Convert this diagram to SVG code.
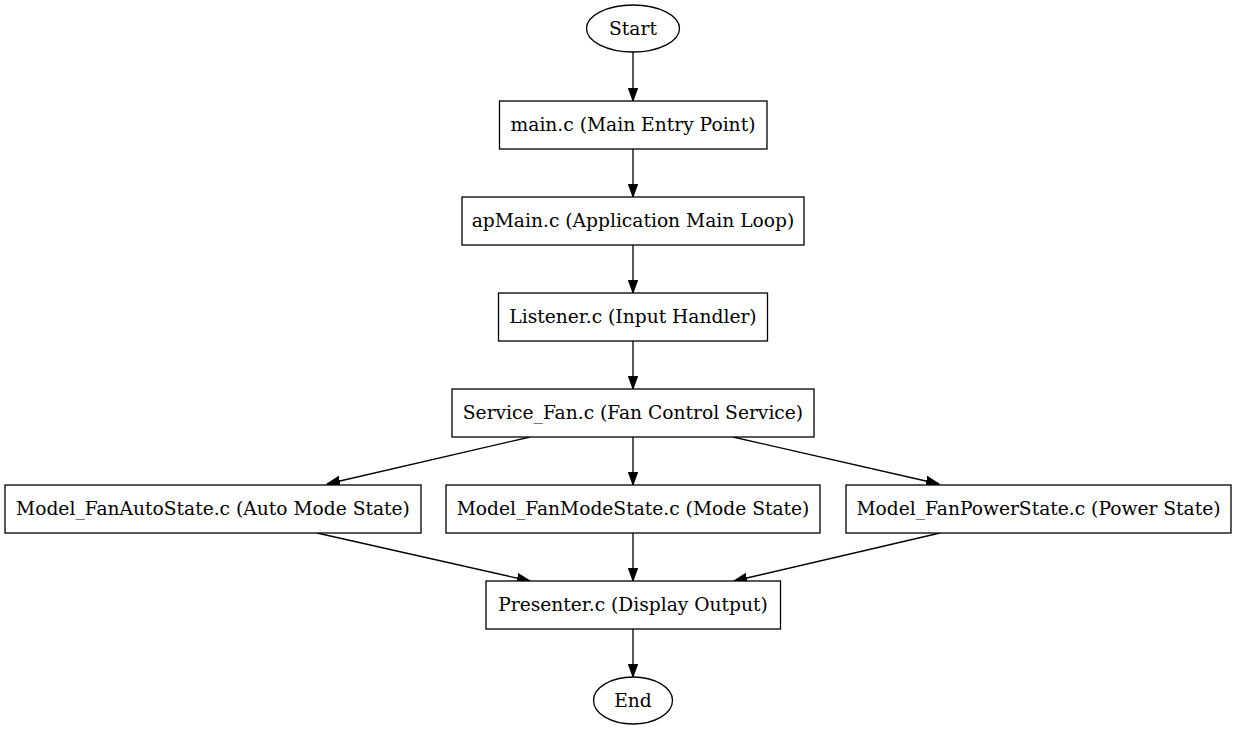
<svg xmlns="http://www.w3.org/2000/svg" width="1237" height="731" viewBox="0 0 1237 731">
<style>
.n{fill:#fff;stroke:#000;stroke-width:1.3}
.t{font-family:"DejaVu Serif",serif;font-size:18.67px;text-anchor:middle;fill:#000}
.e{fill:none;stroke:#000;stroke-width:1.3}
</style>
<defs>
<marker id="a" markerWidth="14" markerHeight="10" refX="13" refY="5" orient="auto" markerUnits="userSpaceOnUse">
<path d="M0,0.3 L13,5 L0,9.7 Z" fill="#000" stroke="#000" stroke-width="1"/>
</marker>
</defs>
<rect width="1237" height="731" fill="#fff"/>
<g id="edges">
<line class="e" x1="633" y1="52" x2="633" y2="101" marker-end="url(#a)"/>
<line class="e" x1="633" y1="149" x2="633" y2="197" marker-end="url(#a)"/>
<line class="e" x1="633" y1="245" x2="633" y2="293" marker-end="url(#a)"/>
<line class="e" x1="633" y1="341" x2="633" y2="389" marker-end="url(#a)"/>
<line class="e" x1="530" y1="437" x2="327" y2="484" marker-end="url(#a)"/>
<line class="e" x1="633" y1="437" x2="633" y2="485" marker-end="url(#a)"/>
<line class="e" x1="733" y1="437" x2="939" y2="484" marker-end="url(#a)"/>
<line class="e" x1="317" y1="533" x2="530" y2="581" marker-end="url(#a)"/>
<line class="e" x1="633" y1="533" x2="633" y2="581" marker-end="url(#a)"/>
<line class="e" x1="940" y1="533" x2="734" y2="581" marker-end="url(#a)"/>
<line class="e" x1="633" y1="629" x2="633" y2="677" marker-end="url(#a)"/>
</g>
<g id="start"><ellipse class="n" cx="633" cy="28.5" rx="46.5" ry="23.5"/><text class="t" x="633" y="34.5">Start</text></g>
<g id="main"><rect class="n" x="499.5" y="101" width="267.5" height="48"/><text class="t" x="633" y="131">main.c (Main Entry Point)</text></g>
<g id="apmain"><rect class="n" x="462" y="197" width="342" height="48"/><text class="t" x="633" y="227">apMain.c (Application Main Loop)</text></g>
<g id="listener"><rect class="n" x="498.5" y="293" width="269" height="48"/><text class="t" x="633" y="323">Listener.c (Input Handler)</text></g>
<g id="service"><rect class="n" x="452" y="389" width="362" height="48"/><text class="t" x="633" y="419">Service_Fan.c (Fan Control Service)</text></g>
<g id="auto"><rect class="n" x="5" y="485" width="416" height="48"/><text class="t" x="213" y="515">Model_FanAutoState.c (Auto Mode State)</text></g>
<g id="mode"><rect class="n" x="446" y="485" width="374" height="48"/><text class="t" x="633" y="515">Model_FanModeState.c (Mode State)</text></g>
<g id="power"><rect class="n" x="846" y="485" width="385" height="48"/><text class="t" x="1038.5" y="515">Model_FanPowerState.c (Power State)</text></g>
<g id="presenter"><rect class="n" x="486" y="581" width="294.5" height="48"/><text class="t" x="633" y="611">Presenter.c (Display Output)</text></g>
<g id="end"><ellipse class="n" cx="633" cy="700.5" rx="39.5" ry="23.5"/><text class="t" x="633" y="706.5">End</text></g>
</svg>
